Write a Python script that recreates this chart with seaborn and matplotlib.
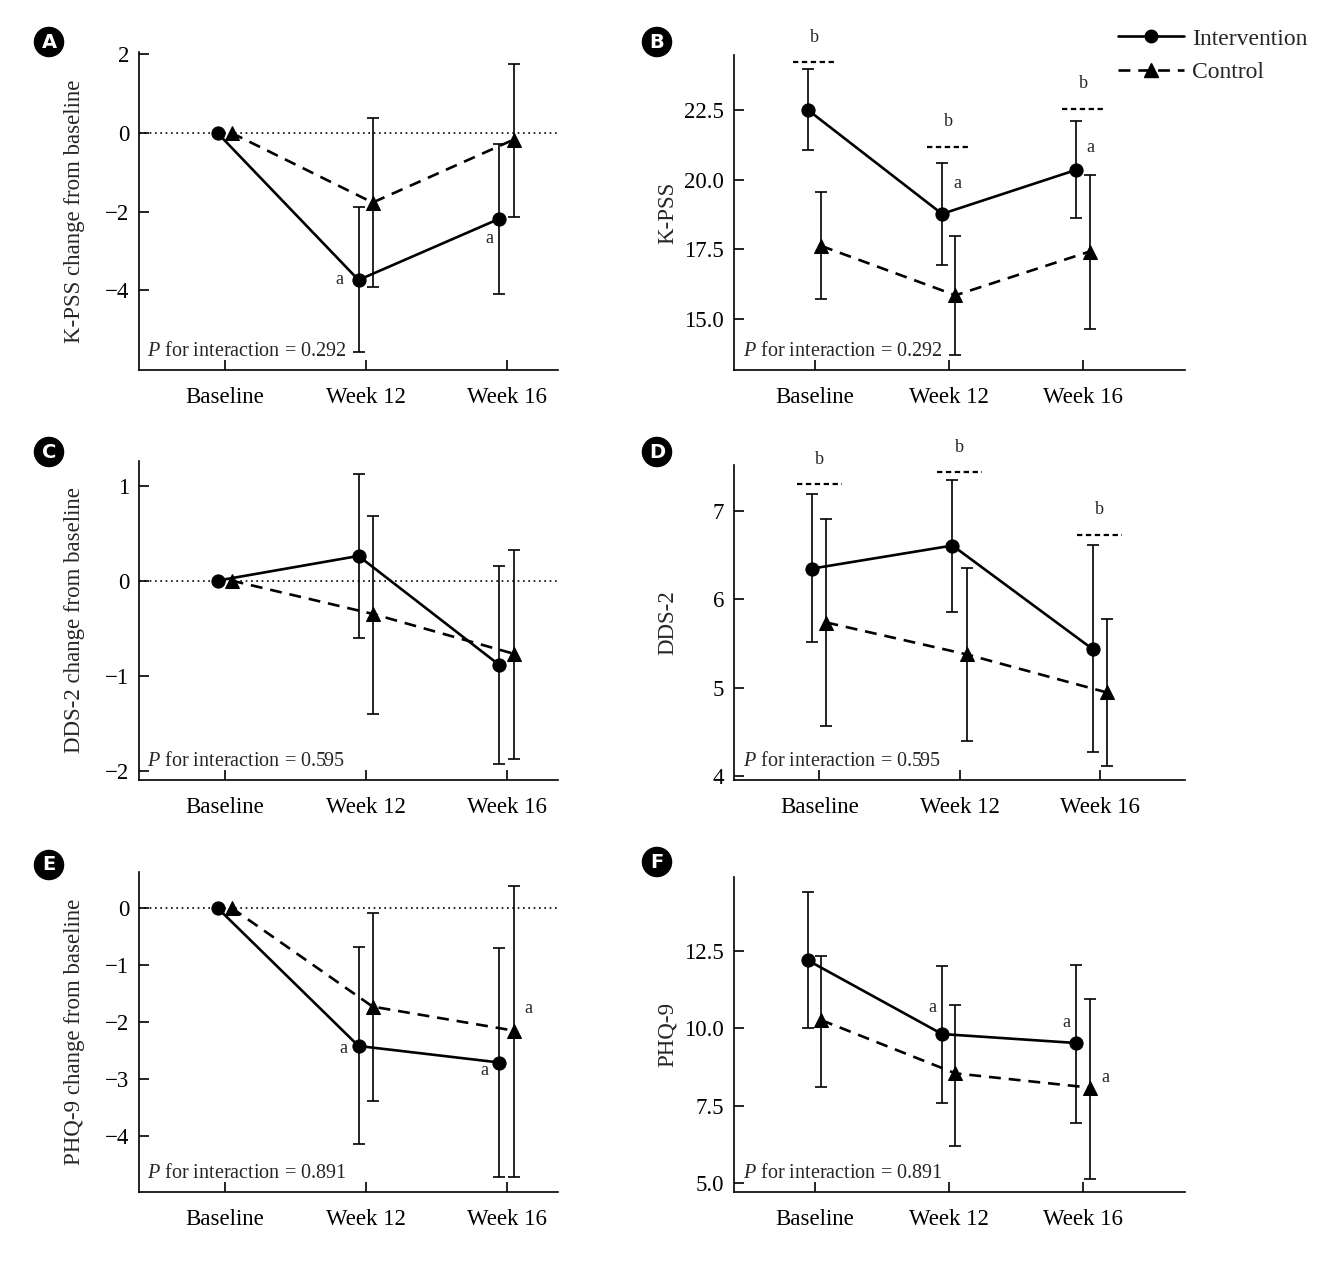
import numpy as np
import pandas as pd
import seaborn as sns
import matplotlib.pyplot as plt
from matplotlib.lines import Line2D

timepoints = ["Baseline", "Week 12", "Week 16"]
groups = ["Intervention", "Control"]

# A: K-PSS change from baseline
kpss_chg_int = [0.0, -3.74, -2.18]
kpss_chg_int_lo = [np.nan, -5.57, -4.09]
kpss_chg_int_hi = [np.nan, -1.89, -0.29]
kpss_chg_ctl = [0.0, -1.77, -0.17]
kpss_chg_ctl_lo = [np.nan, -3.93, -2.15]
kpss_chg_ctl_hi = [np.nan, 0.38, 1.75]

# B: K-PSS
kpss_int = [22.5, 18.77, 20.35]
kpss_int_lo = [21.06, 16.94, 18.62]
kpss_int_hi = [23.96, 20.59, 22.12]
kpss_ctl = [17.62, 15.85, 17.42]
kpss_ctl_lo = [15.70, 13.70, 14.65]
kpss_ctl_hi = [19.55, 17.97, 20.15]
kpss_b = [24.21, 21.18, 22.55]

# C: DDS-2 change from baseline
dds_chg_int = [0.0, 0.26, -0.89]
dds_chg_int_lo = [np.nan, -0.60, -1.93]
dds_chg_int_hi = [np.nan, 1.12, 0.15]
dds_chg_ctl = [0.0, -0.35, -0.77]
dds_chg_ctl_lo = [np.nan, -1.40, -1.88]
dds_chg_ctl_hi = [np.nan, 0.68, 0.32]

# D: DDS-2
dds_int = [6.35, 6.61, 5.44]
dds_int_lo = [5.52, 5.86, 4.28]
dds_int_hi = [7.19, 7.35, 6.62]
dds_ctl = [5.74, 5.38, 4.95]
dds_ctl_lo = [4.57, 4.40, 4.12]
dds_ctl_hi = [6.91, 6.36, 5.78]
dds_b = [7.30, 7.44, 6.73]

# E: PHQ-9 change from baseline
phq_chg_int = [0.0, -2.42, -2.71]
phq_chg_int_lo = [np.nan, -4.13, -4.71]
phq_chg_int_hi = [np.nan, -0.68, -0.71]
phq_chg_ctl = [0.0, -1.73, -2.15]
phq_chg_ctl_lo = [np.nan, -3.39, -4.71]
phq_chg_ctl_hi = [np.nan, -0.09, 0.38]

# F: PHQ-9
phq_int = [12.19, 9.81, 9.52]
phq_int_lo = [10.00, 7.58, 6.93]
phq_int_hi = [14.38, 12.00, 12.05]
phq_ctl = [10.26, 8.54, 8.08]
phq_ctl_lo = [8.10, 6.21, 5.14]
phq_ctl_hi = [12.32, 10.76, 10.94]

p_values = ["0.292", "0.292", "0.595", "0.595", "0.891", "0.891"]

sns.set_style("ticks")
plt.rcParams["font.family"] = ["Liberation Serif", "DejaVu Serif"]
plt.rcParams["mathtext.fontset"] = "custom"
plt.rcParams["mathtext.it"] = "Liberation Serif:italic"
plt.rcParams["mathtext.rm"] = "Liberation Serif"

W, H = 1338, 1262
fig = plt.figure(figsize=(W / 100, H / 100), dpi=100)

offsets = {"Intervention": -0.05, "Control": 0.05}
markers = {"Intervention": "o", "Control": "^"}
dashes = {"Intervention": "", "Control": (4.5, 3)}


def box(left, top, right, bottom):
    return [left / W, 1 - bottom / H, (right - left) / W, (bottom - top) / H]


def draw_panel(ax, means, lows, highs, ylabel, ylim, yticks, yfmt, xlim, pval,
               zero=False, bmarks=None, amarks=()):
    rows = []
    for g in groups:
        for i in range(len(timepoints)):
            rows.append({"group": g, "pos": i + offsets[g], "value": means[g][i]})
    df = pd.DataFrame(rows)

    for g in groups:
        x = np.arange(len(timepoints)) + offsets[g]
        m = np.array(means[g])
        lo = np.array(lows[g])
        hi = np.array(highs[g])
        ok = ~np.isnan(lo)
        ax.errorbar(x[ok], m[ok], yerr=[m[ok] - lo[ok], hi[ok] - m[ok]], fmt="none",
                    ecolor="black", elinewidth=1.2, capsize=4.5, capthick=1.2, zorder=2)

    sns.lineplot(data=df, x="pos", y="value", style="group", style_order=groups,
                 markers=markers, dashes=dashes, color="black", linewidth=1.9,
                 markersize=9.5, markeredgecolor="black", estimator=None, sort=False,
                 legend=False, ax=ax, zorder=3)

    if zero:
        ax.axhline(0, color="black", lw=1.2, ls=(0, (1, 2.2)), zorder=1)

    if bmarks is not None:
        for i, yb in enumerate(bmarks):
            ax.plot([i - 0.16, i + 0.16], [yb, yb], color="black", lw=1.6,
                    ls=(0, (2.4, 1.6)), clip_on=False)
            ax.annotate("b", xy=(i, yb), xytext=(0, 18), textcoords="offset points",
                        ha="center", va="center", fontsize=13, annotation_clip=False)

    for i, g, dx, dy in amarks:
        ax.annotate("a", xy=(i + offsets[g], means[g][i]), xytext=(dx, dy),
                    textcoords="offset points", ha="center", va="center", fontsize=13)

    ax.text(0.02, 0.058, r"$\it{P}$ for interaction = " + pval,
            transform=ax.transAxes, fontsize=14.5, ha="left", va="center")

    ax.set_xlim(*xlim)
    ax.set_ylim(*ylim)
    ax.set_xticks(range(len(timepoints)), timepoints)
    ax.set_yticks(yticks)
    ax.set_yticklabels([yfmt.format(v).replace("-", "\u2212") for v in yticks])
    ax.set_xlabel("")
    ax.set_ylabel(ylabel, fontsize=16.5)
    ax.tick_params(direction="in", length=7, width=1.2, labelsize=16.5, colors="black")
    ax.tick_params(axis="x", pad=12)
    ax.tick_params(axis="y", pad=7)
    for s in ["left", "bottom"]:
        ax.spines[s].set_linewidth(1.2)
        ax.spines[s].set_color("black")
    sns.despine(ax=ax)


def pack(i_m, i_lo, i_hi, c_m, c_lo, c_hi):
    return ({"Intervention": i_m, "Control": c_m},
            {"Intervention": i_lo, "Control": c_lo},
            {"Intervention": i_hi, "Control": c_hi})


# A
ax = fig.add_axes(box(139, 52, 558, 370))
m, lo, hi = pack(kpss_chg_int, kpss_chg_int_lo, kpss_chg_int_hi,
                 kpss_chg_ctl, kpss_chg_ctl_lo, kpss_chg_ctl_hi)
draw_panel(ax, m, lo, hi, "K-PSS change from baseline", (-6.03, 2.06), [-4, -2, 0, 2],
           "{:.0f}", (-0.607, 2.365), p_values[0], zero=True,
           amarks=[(1, "Intervention", -14, 0), (2, "Intervention", -7, -14)])
ax.yaxis.set_label_coords(-0.128, 0.5)

# B
ax = fig.add_axes(box(734, 55, 1185, 370))
m, lo, hi = pack(kpss_int, kpss_int_lo, kpss_int_hi, kpss_ctl, kpss_ctl_lo, kpss_ctl_hi)
draw_panel(ax, m, lo, hi, "K-PSS", (13.17, 24.47), [15, 17.5, 20, 22.5], "{:.1f}",
           (-0.60, 2.76), p_values[1], bmarks=kpss_b,
           amarks=[(1, "Intervention", 11, 22), (2, "Intervention", 10, 16)])
ax.yaxis.set_label_coords(-0.124, 0.5)

# C
ax = fig.add_axes(box(139, 461, 558, 780))
m, lo, hi = pack(dds_chg_int, dds_chg_int_lo, dds_chg_int_hi,
                 dds_chg_ctl, dds_chg_ctl_lo, dds_chg_ctl_hi)
draw_panel(ax, m, lo, hi, "DDS-2 change from baseline", (-2.1, 1.26), [-2, -1, 0, 1],
           "{:.0f}", (-0.607, 2.365), p_values[2], zero=True)
ax.yaxis.set_label_coords(-0.128, 0.5)

# D
ax = fig.add_axes(box(734, 465, 1185, 780))
m, lo, hi = pack(dds_int, dds_int_lo, dds_int_hi, dds_ctl, dds_ctl_lo, dds_ctl_hi)
draw_panel(ax, m, lo, hi, "DDS-2", (3.96, 7.52), [4, 5, 6, 7], "{:.0f}",
           (-0.61, 2.61), p_values[3], bmarks=dds_b)
ax.yaxis.set_label_coords(-0.124, 0.5)

# E
ax = fig.add_axes(box(139, 872, 558, 1192))
m, lo, hi = pack(phq_chg_int, phq_chg_int_lo, phq_chg_int_hi,
                 phq_chg_ctl, phq_chg_ctl_lo, phq_chg_ctl_hi)
draw_panel(ax, m, lo, hi, "PHQ-9 change from baseline", (-4.98, 0.63), [-4, -3, -2, -1, 0],
           "{:.0f}", (-0.607, 2.365), p_values[4], zero=True,
           amarks=[(1, "Intervention", -11, -2), (2, "Intervention", -11, -6),
                   (2, "Control", 11, 16)])
ax.yaxis.set_label_coords(-0.128, 0.5)

# F
ax = fig.add_axes(box(734, 877, 1185, 1192))
m, lo, hi = pack(phq_int, phq_int_lo, phq_int_hi, phq_ctl, phq_ctl_lo, phq_ctl_hi)
draw_panel(ax, m, lo, hi, "PHQ-9", (4.71, 14.88), [5, 7.5, 10, 12.5], "{:.1f}",
           (-0.60, 2.76), p_values[5],
           amarks=[(1, "Intervention", -7, 19), (2, "Intervention", -7, 15),
                   (2, "Control", 11, 7)])
ax.yaxis.set_label_coords(-0.124, 0.5)

# panel letters
for letter, (px, py) in zip("ABCDEF", [(49, 42), (657, 42), (49, 452), (657, 452),
                                        (49, 865), (657, 862)]):
    fig.text(px / W, 1 - py / H, letter, ha="center", va="center", color="white",
             fontsize=14, fontweight="bold", family="DejaVu Sans",
             bbox=dict(boxstyle="circle,pad=0.26", fc="black", ec="black"))

handles = [Line2D([], [], color="black", lw=1.9, marker="o", ms=9),
           Line2D([], [], color="black", lw=1.9, ls=(0, (4.5, 3)), marker="^", ms=9.5)]
fig.legend(handles, groups, loc="upper left", bbox_to_anchor=(1118 / W, 1 - 28 / H),
           frameon=False, fontsize=17, handlelength=2.8, handletextpad=0.35,
           labelspacing=0.5, borderaxespad=0, borderpad=0)

fig.savefig("out.png", dpi=100)
